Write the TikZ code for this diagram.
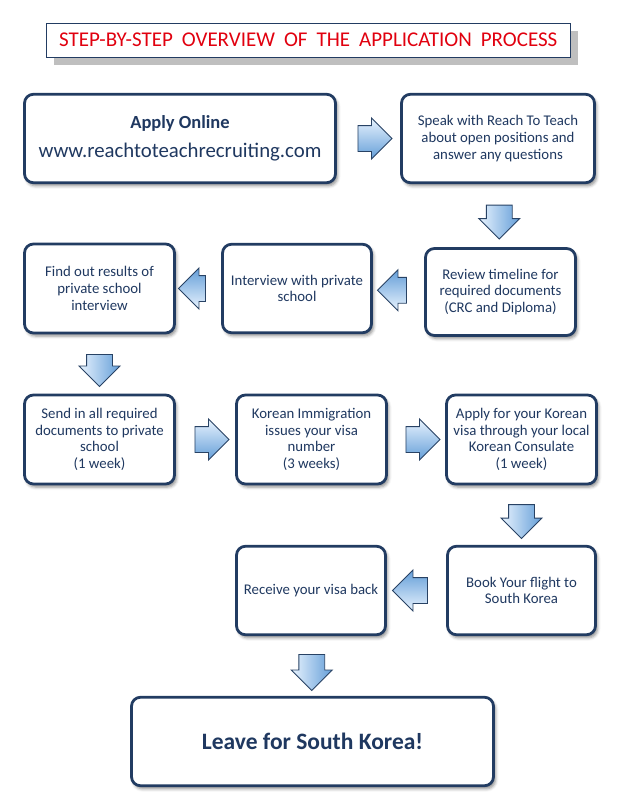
\documentclass[tikz,border=0pt]{standalone}
\usepackage{fontspec}
\setmainfont{Carlito}
\newfontfamily\titlefont[WordSpace=1.9]{Carlito}
\usepackage{tikz}
\usetikzlibrary{shapes.arrows,shadows.blur,calc}
\definecolor{navy}{RGB}{31,56,96}
\definecolor{boxline}{RGB}{34,60,98}
\definecolor{titlered}{RGB}{225,0,15}
\definecolor{arrowlight}{RGB}{232,243,254}
\definecolor{arrowdark}{RGB}{100,158,216}
\definecolor{arrowline}{RGB}{40,66,100}

\begin{document}
\begin{tikzpicture}[x=1pt,y=1pt,node distance=151pt,
    stepbox/.style={draw=boxline,line width=2.8pt,rounded corners=9pt,fill=white,
      text=navy,align=center,inner sep=0pt,minimum width=150pt,minimum height=88.5pt,
      font=\fontsize{14.8}{16.7}\selectfont,
      blur shadow={shadow xshift=2pt,shadow yshift=-3pt,shadow blur radius=3pt,shadow opacity=45}},
    blockarrow/.style={single arrow,draw=arrowline,line width=0.9pt,inner xsep=0pt,inner ysep=12.5pt,
      single arrow head extend=7.5pt,minimum height=34pt,top color=arrowlight,bottom color=arrowdark},
    rarrow/.style={blockarrow},
    darrow/.style={blockarrow,rotate=-90,shading angle=90},
    larrow/.style={blockarrow,rotate=180,shading angle=180,minimum height=29pt}]
    \useasboundingbox (0,0) rectangle (628,-807);
    \node[draw=boxline,line width=0.8pt,fill=white,minimum width=524pt,minimum height=34pt,
      text=titlered,font=\titlefont\fontsize{21}{24}\selectfont,
      drop shadow={shadow xshift=7.5pt,shadow yshift=-7.7pt,fill=black!25,opacity=1}]
      (title) at (308.3,-40) {STEP-BY-STEP OVERVIEW OF THE APPLICATION PROCESS};
    \node[stepbox,minimum width=311pt] (apply) at (180,-138.5)
      {{\bfseries\fontsize{18.5}{22}\selectfont Apply Online}\\[11pt]
       {\fontsize{20.8}{24}\selectfont www.reachtoteachrecruiting.com}};
    \node[stepbox,minimum width=193pt] (speak) [right of=apply, node distance=318pt]
      {Speak with Reach To Teach\\about open positions and\\answer any questions};
    \node[stepbox,minimum height=87pt] (review) [below of=speak, node distance=153.5pt, xshift=2.5pt]
      {Review timeline for\\required documents\\(CRC and Diploma)};
    \node[stepbox,minimum width=149pt] (interview) [left of=review, node distance=203.5pt, yshift=3.5pt]
      {Interview with private\\school};
    \node[stepbox,minimum height=89pt] (find) [left of=interview, node distance=197.5pt]
      {Find out results of\\private school\\interview};
    \node[stepbox,minimum height=89pt] (send) [below of=find]
      {Send in all required\\documents to private\\school\\(1 week)};
    \node[stepbox,minimum height=89pt] (korean) [right of=send, node distance=212pt]
      {Korean Immigration\\issues your visa\\number\\(3 weeks)};
    \node[stepbox,minimum height=89pt] (visa) [right of=korean, node distance=210pt]
      {Apply for your Korean\\visa through your local\\Korean Consulate\\(1 week)};
    \node[stepbox,minimum width=148pt] (book) [below of=visa]
      {Book Your flight to\\South Korea};
    \node[stepbox,minimum width=149pt] (receive) [left of=book, node distance=210.5pt]
      {Receive your visa back};
    \node[stepbox,minimum width=362pt] (leave) [below of=receive, xshift=1.5pt]
      {\bfseries\fontsize{23.5}{28}\selectfont Leave for South Korea!};
    \node[rarrow] (go1) at ($(apply.east)!0.5!(speak.west)$) {};
    \node[darrow] (go2) at ($(speak.south)!0.5!(review.north)$) {};
    \node[larrow] (go3) at ($(review.west)!0.5!(interview.east)$) {};
    \node[larrow,minimum height=27pt] (go4) at ($(interview.west)!0.5!(find.east)$) {};
    \node[darrow,minimum height=32pt] (go5) at ($(find.south)!0.5!(send.north)$) {};
    \node[rarrow] (go6) at ($(send.east)!0.5!(korean.west)$) {};
    \node[rarrow] (go7) at ($(korean.east)!0.5!(visa.west)$) {};
    \node[darrow] (go8) at ($(visa.south)!0.5!(book.north)$) {};
    \node[larrow,minimum height=35pt] (go9) at ($(book.west)!0.5!(receive.east)$) {};
    \node[darrow,minimum height=36pt] (go10) at ($(receive.south)!0.5!(leave.north)$) {};
\end{tikzpicture}
\end{document}
